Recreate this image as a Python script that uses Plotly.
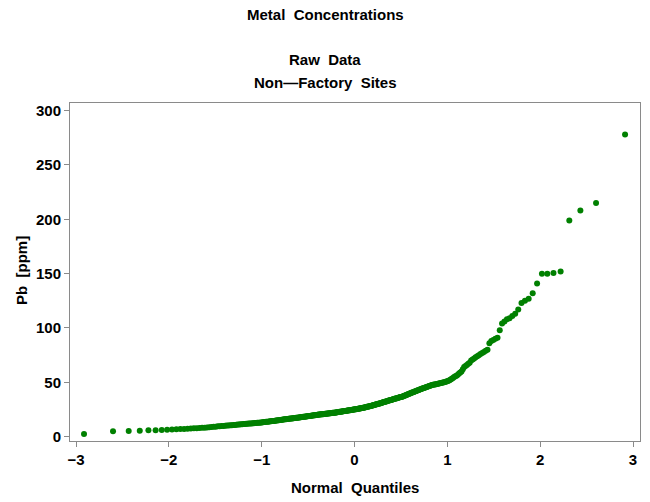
from statistics import NormalDist
import plotly.graph_objects as go

# Pb concentrations (ppm) at the non-factory sites, sorted ascending
pb_ppm = [
    2.5, 5.0, 5.2, 5.5, 5.9, 6.0, 6.1, 6.3, 6.5, 6.8,
    7.0, 7.1, 7.3, 7.5, 7.7, 7.8, 8.0, 8.1, 8.3, 8.5,
    8.7, 8.9, 9.0, 9.2, 9.5, 9.6, 9.8, 9.9, 10.0, 10.2,
    10.3, 10.4, 10.5, 10.7, 10.8, 11.0, 11.1, 11.2, 11.4, 11.5,
    11.6, 11.7, 11.8, 11.9, 12.0, 12.1, 12.2, 12.3, 12.4, 12.5,
    12.6, 12.7, 12.8, 12.9, 13.0, 13.1, 13.2, 13.4, 13.5, 13.6,
    13.7, 13.8, 14.0, 14.1, 14.2, 14.3, 14.4, 14.5, 14.7, 14.8,
    14.9, 15.0, 15.1, 15.3, 15.4, 15.5, 15.6, 15.7, 15.9, 16.0,
    16.1, 16.2, 16.3, 16.4, 16.5, 16.6, 16.7, 16.8, 16.9, 17.0,
    17.1, 17.2, 17.3, 17.4, 17.5, 17.6, 17.7, 17.8, 17.9, 18.0,
    18.1, 18.2, 18.3, 18.4, 18.5, 18.6, 18.7, 18.8, 18.9, 19.0,
    19.1, 19.2, 19.3, 19.4, 19.5, 19.6, 19.7, 19.8, 19.9, 20.0,
    20.1, 20.2, 20.3, 20.3, 20.4, 20.5, 20.6, 20.7, 20.7, 20.8,
    20.9, 21.0, 21.1, 21.1, 21.2, 21.3, 21.4, 21.5, 21.5, 21.6,
    21.7, 21.8, 21.9, 21.9, 22.0, 22.1, 22.2, 22.3, 22.4, 22.5,
    22.6, 22.7, 22.8, 22.9, 23.0, 23.1, 23.2, 23.3, 23.4, 23.5,
    23.6, 23.7, 23.8, 23.9, 24.0, 24.1, 24.2, 24.3, 24.4, 24.5,
    24.6, 24.7, 24.8, 24.9, 25.0, 25.1, 25.2, 25.3, 25.4, 25.5,
    25.6, 25.8, 25.9, 26.0, 26.2, 26.3, 26.4, 26.5, 26.7, 26.8,
    26.9, 27.1, 27.2, 27.4, 27.5, 27.7, 27.8, 28.0, 28.1, 28.3,
    28.5, 28.6, 28.8, 29.0, 29.2, 29.3, 29.5, 29.7, 29.8, 30.0,
    30.2, 30.4, 30.6, 30.8, 31.0, 31.2, 31.4, 31.6, 31.8, 32.0,
    32.2, 32.4, 32.6, 32.8, 33.0, 33.2, 33.4, 33.6, 33.8, 34.0,
    34.2, 34.4, 34.6, 34.8, 35.0, 35.2, 35.4, 35.6, 35.8, 36.0,
    36.2, 36.4, 36.6, 36.8, 37.0, 37.3, 37.6, 37.9, 38.2, 38.5,
    38.8, 39.1, 39.4, 39.7, 40.0, 40.3, 40.6, 40.9, 41.2, 41.5,
    41.8, 42.1, 42.4, 42.7, 43.0, 43.3, 43.6, 43.9, 44.2, 44.5,
    44.8, 45.1, 45.4, 45.7, 46.0, 46.3, 46.6, 46.9, 47.2, 47.5,
    47.7, 47.9, 48.1, 48.3, 48.5, 48.7, 48.9, 49.1, 49.3, 49.5,
    49.8, 50.1, 50.4, 50.7, 51.0, 51.5, 52.0, 52.6, 53.2, 54.0,
    55.0, 55.5, 56.0, 57.0, 58.0, 59.0, 60.0, 62.0, 64.0, 65.0,
    66.0, 67.0, 68.0, 70.0, 71.0, 72.0, 73.0, 74.0, 75.0, 76.0,
    77.0, 78.0, 79.0, 80.0, 86.0, 88.0, 89.0, 90.0, 91.0, 98.0,
    104.0, 106.0, 108.0, 109.0, 111.0, 113.0, 117.0, 123.0, 125.0, 127.0,
    132.0, 141.0, 150.0, 150.0, 150.5, 152.0, 199.0, 208.0, 215.0, 278.0,
]

x_ticks = [-3, -2, -1, 0, 1, 2, 3]
y_ticks = [0, 50, 100, 150, 200, 250, 300]

# Blom plotting positions -> normal quantiles
n = len(pb_ppm)
nd = NormalDist()
quantiles = [nd.inv_cdf((i - 0.375) / (n + 0.25)) for i in range(1, n + 1)]

FONT = "Liberation Sans, Arial, sans-serif"
AXIS_COLOR = "#8a8a8a"

fig = go.Figure(
    go.Scatter(
        x=quantiles,
        y=pb_ppm,
        mode="markers",
        marker=dict(color="#008000", size=6, line=dict(width=0)),
        showlegend=False,
    )
)

axis_common = dict(
    showgrid=False,
    zeroline=False,
    showline=True,
    linecolor=AXIS_COLOR,
    linewidth=1,
    mirror=True,
    ticks="outside",
    ticklen=5,
    tickwidth=1,
    tickcolor=AXIS_COLOR,
    tickfont=dict(family=FONT, size=15, color="black", weight="bold"),
)

fig.update_xaxes(range=[-3.065, 3.075], tickvals=x_ticks, **axis_common)
fig.update_yaxes(range=[-4, 307], tickvals=y_ticks, **axis_common)

plot_top, plot_bottom, plot_left, plot_right = 103, 441, 70, 640
h = plot_bottom - plot_top
w = plot_right - plot_left


def ypos(py):
    return (plot_bottom - py) / h


def xpos(px):
    return (px - plot_left) / w


title_font = dict(family=FONT, size=15, color="black", weight="bold")
titles = [("Metal  Concentrations", 14), ("Raw  Data", 59), ("Non\u2014Factory  Sites", 82)]
annotations = [
    dict(text=t, x=xpos(325), y=ypos(py), xref="paper", yref="paper",
         xanchor="center", yanchor="middle", showarrow=False, font=title_font)
    for t, py in titles
]
annotations.append(
    dict(text="Normal  Quantiles", x=xpos(355), y=ypos(487), xref="paper", yref="paper",
         xanchor="center", yanchor="middle", showarrow=False, font=title_font)
)
annotations.append(
    dict(text="Pb  [ppm]", x=xpos(21), y=ypos(271), xref="paper", yref="paper",
         xanchor="center", yanchor="middle", showarrow=False, textangle=-90, font=title_font)
)

fig.update_layout(
    width=650,
    height=502,
    margin=dict(l=plot_left, r=650 - plot_right, t=plot_top, b=502 - plot_bottom),
    paper_bgcolor="white",
    plot_bgcolor="white",
    annotations=annotations,
)

fig.write_html("out.html")
